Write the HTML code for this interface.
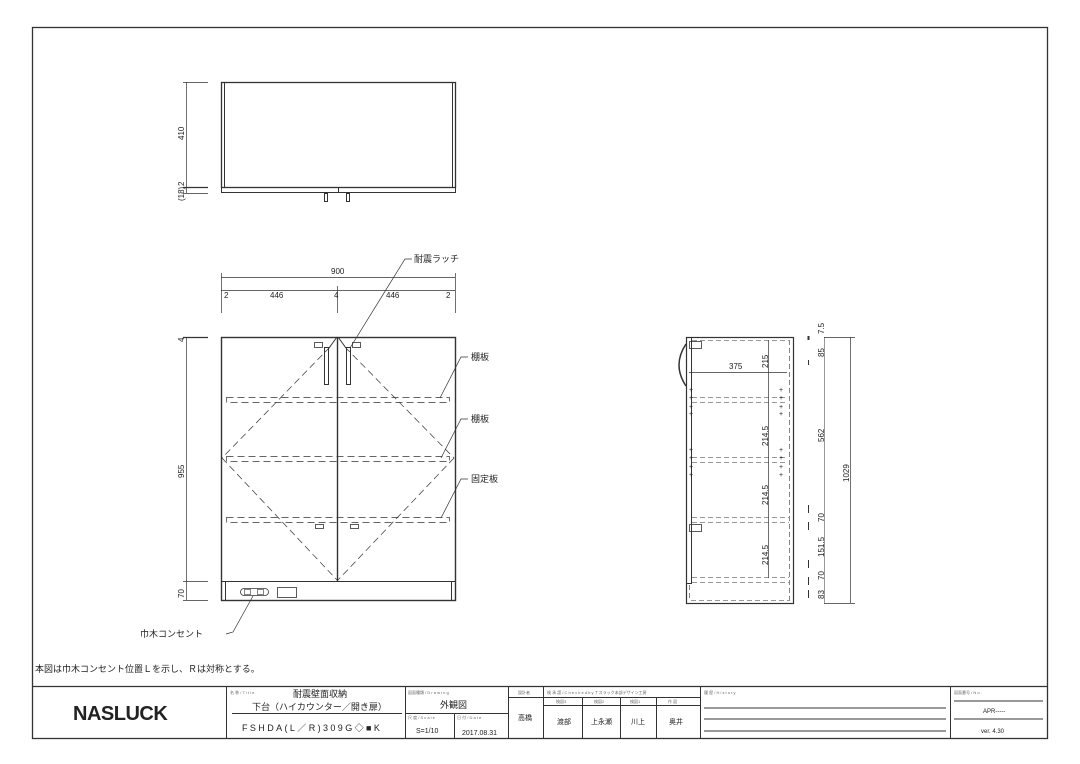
<!DOCTYPE html>
<html><head><meta charset="utf-8"><style>
html,body{margin:0;padding:0;background:#fff;}
svg{display:block;}
text{font-family:"Liberation Sans","Noto Sans CJK JP",sans-serif;fill:#222;}
.t{font-size:9px;}
.s{font-size:4px;fill:#666;}
</style></head><body>
<svg width="1080" height="764" viewBox="0 0 1080 764" xmlns="http://www.w3.org/2000/svg">
<g fill="none" stroke="#333" stroke-width="1">
<rect x="32.5" y="27.5" width="1015" height="711" stroke-width="1.3"/>
<line x1="32" y1="686.5" x2="1047" y2="686.5" stroke-width="1.3"/>
<line x1="226.5" y1="686" x2="226.5" y2="738"/>
<line x1="405.5" y1="686" x2="405.5" y2="738"/>
<line x1="508.5" y1="686" x2="508.5" y2="738"/>
<line x1="543.5" y1="686" x2="543.5" y2="738"/>
<line x1="700.5" y1="686" x2="700.5" y2="738"/>
<line x1="950.5" y1="686" x2="950.5" y2="738"/>
<line x1="232" y1="713.5" x2="402" y2="713.5"/>
<line x1="405" y1="713.5" x2="508" y2="713.5"/>
<line x1="454.5" y1="713" x2="454.5" y2="738"/>
<line x1="508" y1="697.5" x2="700" y2="697.5"/>
<line x1="543" y1="705.5" x2="700" y2="705.5"/>
<line x1="582.5" y1="697" x2="582.5" y2="738"/>
<line x1="620.5" y1="697" x2="620.5" y2="738"/>
<line x1="656.5" y1="697" x2="656.5" y2="738"/>
<line x1="704" y1="708" x2="946" y2="708"/>
<line x1="704" y1="719" x2="946" y2="719"/>
<line x1="704" y1="731" x2="946" y2="731"/>
<line x1="954" y1="701" x2="1043" y2="701"/>
<line x1="954" y1="719" x2="1043" y2="719"/>
</g>
<text x="35" y="672" class="t">本図は巾木コンセント位置Ｌを示し、Ｒは対称とする。</text>
<text x="73" y="720" style="font-size:20px;font-weight:bold;letter-spacing:-0.5px;font-family:'Liberation Sans',sans-serif" fill="#111">NASLUCK</text>
<text x="230" y="694" class="s">名 称 / T i t l e</text>
<text x="293" y="697" class="t">耐震壁面収納</text>
<text x="252" y="710" class="t">下台（ハイカウンター／開き扉）</text>
<text x="242" y="731" class="t" style="letter-spacing:2.4px">FSHDA(L／R)309G◇■K</text>
<text x="408" y="694" class="s">図面種類 / D r a w i n g</text>
<text x="440" y="708" class="t">外観図</text>
<text x="408" y="719" class="s">尺 度 / S c a l e</text>
<text x="457" y="719" class="s">日 付 / D a t e</text>
<text x="416" y="733" style="font-size:7px">S=1/10</text>
<text x="462" y="735" style="font-size:7px">2017.08.31</text>
<text x="518" y="694" class="s">設計者</text>
<text x="518" y="720" style="font-size:7px">高橋</text>
<text x="547" y="694" class="s">検 承 認 / C h e c k e d b y ナスラック本部デザイン工房</text>
<text x="556" y="703" class="s">検図3</text><text x="594" y="703" class="s">検図2</text><text x="630" y="703" class="s">検図1</text><text x="668" y="703" class="s">作 図</text>
<text x="557" y="724" style="font-size:7px">渡部</text>
<text x="591" y="724" style="font-size:7px">上永瀬</text>
<text x="631" y="724" style="font-size:7px">川上</text>
<text x="669" y="724" style="font-size:7px">奥井</text>
<text x="704" y="694" class="s">履 歴 / H i s t o r y</text>
<text x="954" y="694" class="s">図面番号 / N o .</text>
<text x="983" y="713" style="font-size:6px">APR-----</text>
<text x="981" y="733" style="font-size:6px">ver. 4.30</text>

<g fill="none" stroke="#333" stroke-width="1">
<rect x="221.5" y="82.5" width="234" height="105" stroke-width="1.3"/>
<line x1="224.5" y1="82" x2="224.5" y2="187"/>
<line x1="452.5" y1="82" x2="452.5" y2="187"/>
<rect x="221.5" y="187.5" width="234" height="5"/>
<line x1="338.5" y1="187" x2="338.5" y2="193"/>
<rect x="324.5" y="193.5" width="3" height="8"/>
<rect x="346.5" y="193.5" width="3" height="8"/>
<line x1="186.5" y1="82" x2="186.5" y2="193" stroke-width="0.7"/>
<line x1="183" y1="82.5" x2="208" y2="82.5" stroke-width="0.7"/>
<line x1="183" y1="187.5" x2="208" y2="187.5" stroke-width="1.2"/>
<line x1="183" y1="193.5" x2="208" y2="193.5" stroke-width="0.7"/>
</g>
<text transform="translate(184,140) rotate(-90)" style="font-size:8px">410</text>
<text transform="translate(184,186) rotate(-90)" style="font-size:8px">2</text>
<text transform="translate(184,201) rotate(-90)" style="font-size:8px">(18)</text>

<g fill="none" stroke="#333" stroke-width="1">
<line x1="221" y1="277.5" x2="455" y2="277.5" stroke-width="0.7"/>
<line x1="221" y1="290.5" x2="455" y2="290.5" stroke-width="0.7"/>
<line x1="221.5" y1="273" x2="221.5" y2="313" stroke-width="0.7"/>
<line x1="455.5" y1="273" x2="455.5" y2="313" stroke-width="0.7"/>
<line x1="337.5" y1="286" x2="337.5" y2="313" stroke-width="0.7"/>
<rect x="221.5" y="337.5" width="234" height="263" stroke-width="1.4"/>
<line x1="337.5" y1="337" x2="337.5" y2="581" stroke-width="1.4"/>
<line x1="221" y1="581.5" x2="455" y2="581.5"/>
<line x1="225.5" y1="581" x2="225.5" y2="600"/>
<line x1="451.5" y1="581" x2="451.5" y2="600"/>
<rect x="324.5" y="347.5" width="4" height="37"/>
<rect x="346.5" y="347.5" width="4" height="37"/>
<line x1="337" y1="337" x2="329" y2="348"/><line x1="338" y1="337" x2="346" y2="348"/>
<g stroke-dasharray="7,4" stroke-width="0.7">
<line x1="330" y1="347" x2="222" y2="458"/><line x1="222" y1="458" x2="337" y2="580"/>
<line x1="345" y1="347" x2="454" y2="458"/><line x1="454" y1="458" x2="338" y2="580"/>
<rect x="226.5" y="397.5" width="223" height="5"/>
<rect x="226.5" y="456.5" width="223" height="5"/>
<rect x="226.5" y="517.5" width="223" height="5"/>
</g>
<rect x="314.5" y="342.5" width="8" height="5" stroke-width="0.8"/>
<rect x="352.5" y="342.5" width="8" height="5" stroke-width="0.8"/>
<rect x="315.5" y="524.5" width="8" height="4" stroke-width="0.8"/>
<rect x="350.5" y="524.5" width="8" height="4" stroke-width="0.8"/>
<rect x="240.5" y="588.5" width="28" height="7" rx="3.5" stroke-width="0.8"/>
<rect x="244.5" y="589.5" width="6" height="5" stroke-width="0.6"/>
<rect x="257.5" y="589.5" width="6" height="5" stroke-width="0.6"/>
<rect x="277.5" y="587.5" width="19" height="10" stroke-width="0.8"/>
<line x1="186.5" y1="337" x2="186.5" y2="600" stroke-width="0.7"/>
<line x1="183" y1="337.5" x2="208" y2="337.5" stroke-width="1.2"/>
<line x1="183" y1="581.5" x2="208" y2="581.5" stroke-width="0.7"/>
<line x1="183" y1="600.5" x2="208" y2="600.5" stroke-width="0.7"/>
<g stroke-width="0.7">
<polyline points="412,259 405,259 350,348"/>
<polyline points="468,357 461,357 440,398"/>
<polyline points="468,419 461,419 441,458"/>
<polyline points="468,479 461,479 441,518"/>
<polyline points="226,634 233,632 253,596"/>
</g>
</g>
<g style="font-size:8px">
<text x="331" y="274">900</text>
<text x="224" y="298">2</text>
<text x="270" y="298">446</text>
<text x="334" y="298">4</text>
<text x="386" y="298">446</text>
<text x="446" y="298">2</text>
<text transform="translate(184,342) rotate(-90)">4</text>
<text transform="translate(184,478) rotate(-90)">955</text>
<text transform="translate(184,598) rotate(-90)">70</text>
</g>
<text x="414" y="262" class="t">耐震ラッチ</text>
<text x="471" y="360" class="t">棚板</text>
<text x="471" y="422" class="t">棚板</text>
<text x="471" y="482" class="t">固定板</text>
<text x="140" y="637" class="t">巾木コンセント</text>

<g fill="none" stroke="#333" stroke-width="1">
<rect x="686.5" y="337.5" width="107" height="266" stroke-width="1.2"/>
<line x1="691.5" y1="337" x2="691.5" y2="583"/>
<line x1="686" y1="583.5" x2="692" y2="583.5"/>
<path d="M686,344 Q672,365 686,386" stroke-width="1.5"/>
<rect x="689.5" y="341.5" width="12" height="7" stroke-width="0.8"/>
<rect x="689.5" y="524.5" width="12" height="7" stroke-width="0.8"/>
<g stroke-dasharray="5,3" stroke-width="0.6">
<line x1="692" y1="340.5" x2="789" y2="340.5"/>
<line x1="789.5" y1="340" x2="789.5" y2="601"/>
<line x1="691" y1="600.5" x2="789" y2="600.5"/>
<line x1="692" y1="397.5" x2="786" y2="397.5"/><line x1="692" y1="402.5" x2="786" y2="402.5"/>
<line x1="692" y1="457.5" x2="786" y2="457.5"/><line x1="692" y1="462.5" x2="786" y2="462.5"/>
<line x1="692" y1="517.5" x2="789" y2="517.5"/><line x1="692" y1="522.5" x2="789" y2="522.5"/>
<line x1="692" y1="577.5" x2="789" y2="577.5"/><line x1="692" y1="582.5" x2="789" y2="582.5"/>
<line x1="689.5" y1="585" x2="689.5" y2="601"/>
</g>
<line x1="689" y1="372.5" x2="787" y2="372.5" stroke-width="0.7"/>
<line x1="768.5" y1="340" x2="768.5" y2="578" stroke-width="0.7"/>
<line x1="824" y1="337.5" x2="855" y2="337.5" stroke-width="0.7"/>
<line x1="824.5" y1="337" x2="824.5" y2="603" stroke-width="0.5"/>
<line x1="850.5" y1="337" x2="850.5" y2="603" stroke-width="0.7"/>
<line x1="824" y1="603.5" x2="855" y2="603.5" stroke-width="0.7"/>
<line x1="808.5" y1="336" x2="808.5" y2="340" stroke-width="2"/>
<line x1="808.5" y1="360" x2="808.5" y2="365"/>
<line x1="808.5" y1="505" x2="808.5" y2="513"/>
<line x1="808.5" y1="522" x2="808.5" y2="530"/>
<line x1="808.5" y1="560" x2="808.5" y2="568"/>
<line x1="808.5" y1="577" x2="808.5" y2="585"/>
<line x1="808.5" y1="590" x2="808.5" y2="598"/>
</g>
<g style="font-size:8px">
<text x="729" y="369">375</text>
<text transform="translate(768,368) rotate(-90)">215</text>
<text transform="translate(768,446) rotate(-90)">214.5</text>
<text transform="translate(768,505) rotate(-90)">214.5</text>
<text transform="translate(768,565) rotate(-90)">214.5</text>
<text transform="translate(824,334) rotate(-90)">7.5</text>
<text transform="translate(824,357) rotate(-90)">85</text>
<text transform="translate(824,442) rotate(-90)">562</text>
<text transform="translate(824,522) rotate(-90)">70</text>
<text transform="translate(824,557) rotate(-90)">151.5</text>
<text transform="translate(824,580) rotate(-90)">70</text>
<text transform="translate(824,599) rotate(-90)">83</text>
<text transform="translate(849,482) rotate(-90)">1029</text>
</g>
<g style="font-size:7px;fill:#333">
<text x="689" y="392">+</text><text x="689" y="400">+</text><text x="689" y="409">+</text><text x="689" y="416">+</text>
<text x="689" y="452">+</text><text x="689" y="460">+</text><text x="689" y="469">+</text><text x="689" y="477">+</text>
<text x="779" y="392">+</text><text x="779" y="400">+</text><text x="779" y="409">+</text><text x="779" y="416">+</text>
<text x="779" y="452">+</text><text x="779" y="460">+</text><text x="779" y="469">+</text><text x="779" y="477">+</text>
</g>
</svg>
</body></html>
